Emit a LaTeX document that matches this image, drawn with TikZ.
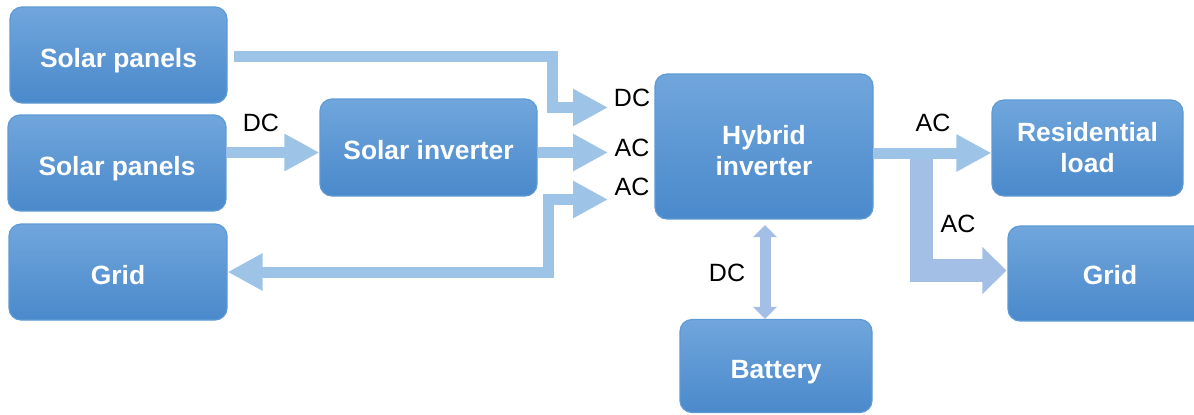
\documentclass[tikz,border=0pt]{standalone}
\usepackage{fontspec}
\setmainfont{Liberation Sans}
\usepackage{xcolor}
\definecolor{BoxTop}{HTML}{70A6DC}
\definecolor{BoxBot}{HTML}{4A89CB}
\definecolor{BoxLine}{HTML}{5E9AD4}
\definecolor{Flow}{HTML}{9DC3E6}
\definecolor{FlowDeep}{HTML}{A3BFE6}
\usetikzlibrary{arrows.meta,calc}
\tikzset{
  unitbox/.style={draw=BoxLine,line width=0.6pt,top color=BoxTop,bottom color=BoxBot,
    rounded corners=6pt,text=white,align=center,inner sep=0pt,
    font=\bfseries\fontsize{13.2}{15.5}\selectfont},
  unitline/.style={unitbox,text height=12pt,text depth=0pt},
  tag/.style={inner sep=0pt,font=\fontsize{12.5}{14}\selectfont},
  flowarrow/.style={draw=Flow,line width=5.5pt,-{Triangle[length=17.5pt,width=17.5pt]}},
  flowboth/.style={flowarrow,{Triangle[length=17.5pt,width=17.5pt]}-{Triangle[length=17.5pt,width=17.5pt]}},
  flowwide/.style={draw=FlowDeep,line width=11.5pt,-{Triangle[length=12pt,width=23pt]}},
  flowthin/.style={draw=FlowDeep,line width=5.5pt,{Triangle[length=6pt,width=11.5pt]}-{Triangle[length=6pt,width=11.5pt]}}
}
\begin{document}
\begin{tikzpicture}[x=0.5pt,y=-0.5pt]
  \clip (0,0) rectangle (1194,414);
  % boxes
  \node[unitline,minimum width=108.5pt,minimum height=48pt] (solarA) at (118.5,55) {Solar panels};
  \node[unitline,minimum width=109pt,minimum height=48pt] (solarB) at (117,163) {Solar panels};
  \node[unitline,minimum width=109pt,minimum height=48pt] (gridL) at (118,272) {Grid};
  \node[unitline,minimum width=108.5pt,minimum height=48.5pt] (solinv) at (428.5,147.5) {Solar inverter};
  \node[unitbox,minimum width=109pt,minimum height=72.5pt] (hyb) at (764,146.5) {\\[-2pt]Hybrid\\inverter};
  \node[unitbox,minimum width=95.5pt,minimum height=48pt] (res) at (1087.5,148) {Residential\\load};
  \node[unitline,text height=10.5pt,minimum width=102pt,minimum height=47.5pt] (gridR) at (1110,273.5) {Grid};
  \node[unitline,minimum width=96pt,minimum height=46.5pt] (batt) at (776,366) {Battery};
  % arrow ends
  \coordinate (inDC) at (608,107.5);
  \coordinate (inAC) at (608,152.5);
  \coordinate (inACb) at (608,199.5);
  \coordinate (outAC) at (873,153);
  \coordinate (battTop) at (765,225);
  % connectors
  \draw[flowarrow] ($(solarA.east)+(6,1.5)$) -| ($(inDC)+(-56,0)$) -- (inDC);
  \draw[flowarrow] (solarB.east |- inAC) -- (solinv.west |- inAC);
  \draw[flowarrow] (solinv.east |- inAC) -- (inAC);
  \draw[flowboth] (inACb) -| ($(gridL.east -| inACb)+(-59.5,0)$) -- (gridL.east);
  \draw[flowwide] ($(outAC)+(48.5,0)$) |- ($(gridR.west)+(-1,-3)$);
  \draw[flowarrow] (outAC) -- (outAC -| res.west);
  \draw[flowthin] (battTop) -- (battTop |- batt.north);
  % labels
  \node[tag] (dcSolar) at (261,123) {DC};
  \node[tag] (dcIn) at (632,98) {DC};
  \node[tag] (acIn) at (632,148) {AC};
  \node[tag] (acInB) at (632,187) {AC};
  \node[tag] (acRes) at (933,123) {AC};
  \node[tag] (acGrid) at (958,224) {AC};
  \node[tag] (dcBatt) at (727,273) {DC};
\end{tikzpicture}
\end{document}
